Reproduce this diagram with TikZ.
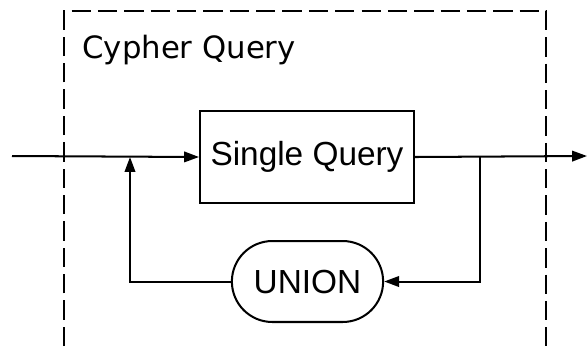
\documentclass[tikz,border=0pt]{standalone}
\usepackage{fontspec}
\setmainfont{Liberation Sans}
\newfontfamily\labelfont{DejaVu Sans}
\usetikzlibrary{arrows.meta,shapes.misc}

\tikzset{
  conn/.style={line width=1.15pt,-{Triangle[length=8.5pt,width=6pt]}},
  block/.style={draw,line width=1.15pt,minimum width=4.28cm,minimum height=1.84cm,font=\fontsize{19}{22}\selectfont},
  term/.style={draw,line width=1.15pt,rounded rectangle,minimum width=3.26cm,minimum height=1.62cm,font=\fontsize{19}{22}\selectfont}
}

\begin{document}
\begin{tikzpicture}[x=0.02cm,y=-0.02cm]
  \useasboundingbox (0,0) rectangle (587,346);
  % frame of the clause
  \draw[line width=1.15pt,dash pattern=on 11pt off 4pt] (64,346) -- (64,11) -- (546,11) -- (546,346);
  \node[anchor=base west,inner sep=0pt,font=\labelfont\fontsize{17.5}{21}\selectfont] (title) at (82,58) {Cypher Query};

  \node[block] (single) at (307,157) {Single Query};
  \node[term] (union) at (307.5,281.5) {UNION};

  \coordinate (in) at (12,156);
  \coordinate (out) at (587,156);
  \coordinate (split) at (480,156);
  \coordinate (join) at (130,157);

  \draw[conn] (in) -- (single.west);
  \draw[conn] (single.east) -- (out);
  \draw[conn] (split) |- (union.east);
  \draw[conn] (union.west) -| (join);
\end{tikzpicture}
\end{document}
